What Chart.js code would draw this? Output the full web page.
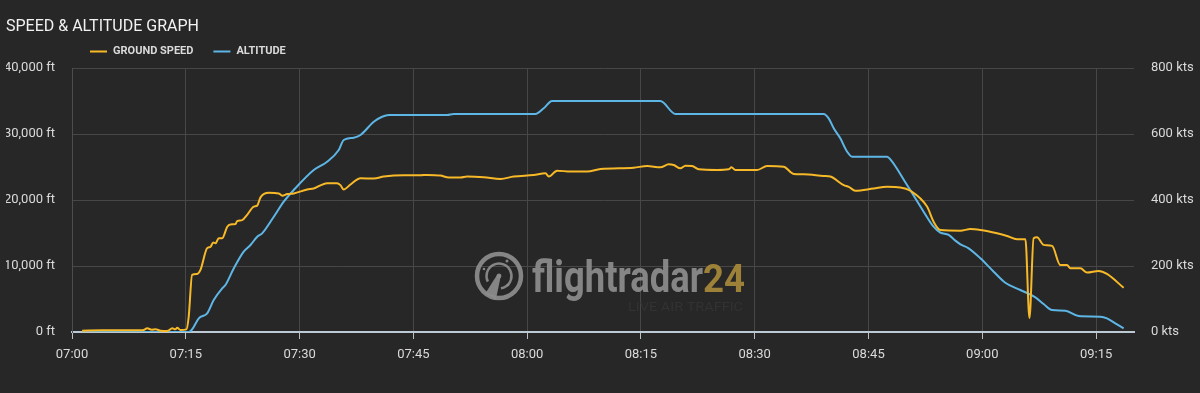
<!DOCTYPE html>
<html>
<head>
<meta charset="utf-8">
<script src="https://cdn.jsdelivr.net/npm/chart.js@4.4.1/dist/chart.umd.min.js"></script>
<style>
html,body{margin:0;padding:0;background:#272727;overflow:hidden;}
#wrap{width:1200px;height:393px;position:relative;}
</style>
</head>
<body>
<div id="wrap"><canvas id="c" width="1200" height="393"></canvas></div>
<script>
// ---- Data ----
const chartTitle = 'SPEED & ALTITUDE GRAPH';
const timeTicks = ['07:00','07:15','07:30','07:45','08:00','08:15','08:30','08:45','09:00','09:15'];
const altitudeTicks = [0, 10000, 20000, 30000, 40000];
const speedTicks = [0, 200, 400, 600, 800];

const altitudeTimes = ['07:01:20','07:15:23','07:15:50','07:16:43','07:17:49','07:18:41','07:19:48','07:20:14','07:21:20','07:22:38',
  '07:23:32','07:24:25','07:25:04','07:26:36','07:27:55','07:29:14','07:31:52','07:33:38','07:35:10','07:35:49',
  '07:37:08','07:38:02','07:39:47','07:40:53','07:41:46','07:49:27','07:50:19','08:01:05','08:02:11','08:03:17',
  '08:17:34','08:19:33','08:39:05','08:39:45','08:40:25','08:41:17','08:42:11','08:42:50','08:47:27','08:47:53',
  '08:50:05','08:52:16','08:53:35','08:54:28','08:55:34','08:56:27','08:57:07','08:58:12','08:59:45','09:01:30',
  '09:03:02','09:05:01','09:07:00','09:08:05','09:09:12','09:10:57','09:12:42','09:15:34','09:16:26','09:17:32','09:18:38'];
const altitudeFt = [0,0,400,2075,2830,4850,6620,7120,9650,12170,
  13180,14440,14950,17470,19740,21510,24540,25800,27570,29090,
  29440,29850,31860,32620,32880,32880,33030,33030,33890,35000,
  35000,33030,33030,32370,30860,29340,27320,26560,26560,26160,
  22270,18230,15950,15050,14700,13840,13290,12680,11170,9140,
  7470,6360,5250,4240,3330,3230,2420,2320,2070,1320,560];

const speedTimes = ['07:01:20','07:04:00','07:07:00','07:09:20','07:09:55','07:10:30','07:11:00','07:11:40','07:12:33','07:13:13','07:13:38','07:13:52','07:14:18','07:15:05',
  '07:15:23','07:15:50','07:16:30','07:16:56','07:17:49','07:18:15','07:18:37','07:18:55','07:19:21','07:19:48',
  '07:20:28','07:20:53','07:21:33','07:21:46','07:22:26','07:23:05','07:23:58','07:24:25','07:24:51','07:25:56',
  '07:27:16','07:27:43','07:28:22','07:29:14','07:31:00','07:31:52','07:33:38','07:34:57','07:35:23','07:35:49',
  '07:36:43','07:38:02','07:39:47','07:41:06','07:43:44','07:45:56','07:46:49','07:48:34','07:49:40','07:51:13',
  '07:52:05','07:54:17','07:56:29','07:58:14','08:00:52','08:02:25','08:02:51','08:03:57','08:05:43','08:07:55',
  '08:09:40','08:14:03','08:15:49','08:17:34','08:18:40','08:19:19','08:20:12','08:20:52','08:21:45','08:22:37',
  '08:25:02','08:26:34','08:26:56','08:27:27','08:30:19','08:31:38','08:33:49','08:35:08','08:36:28','08:39:05',
  '08:39:58','08:41:44','08:42:24','08:43:16','08:45:41','08:47:27','08:49:12','08:50:31','08:52:43','08:53:35',
  '08:54:28','08:57:07','08:58:26','08:59:45','09:01:57','09:03:16','09:04:35','09:05:41','09:06:13','09:06:46',
  '09:07:13','09:08:05','09:09:12','09:10:17','09:11:10','09:11:37','09:12:56','09:13:49','09:15:20','09:16:26','09:18:38'];
const groundSpeedKts = [4,5,5,5,11,7,8,4,3,11,8,13,6,8,
  46,173,176,188,254,258,271,269,284,284,
  319,326,327,336,339,355,380,383,408,422,
  420,413,418,420,432,435,451,451,445,432,
  447,466,465,471,475,475,476,474,468,468,
  471,469,464,471,476,481,471,489,486,486,
  494,498,503,499,508,506,496,504,503,493,
  491,493,499,491,491,503,501,479,478,473,
  471,445,440,428,435,440,438,428,380,334,
  309,307,312,309,299,291,281,281,42,284,
  287,264,261,203,203,193,193,180,185,176,134];

const axisStart = '07:00';
const axisEnd = '09:20';

// ---- helpers ----
function toSec(t){ const p = t.split(':').map(Number); return p[0]*3600 + p[1]*60 + (p[2]||0); }
const t0 = toSec(axisStart);
function toMin(t){ return (toSec(t) - t0) / 60; }
const tickLabelByMin = {};
timeTicks.forEach(t => { tickLabelByMin[Math.round(toMin(t))] = t; });

const SPEED_COLOR = '#f7b928';
const ALT_COLOR = '#5db6e6';
const TEXT_COLOR = '#dadada';
const GRID_COLOR = '#474747';

Chart.defaults.font.family = 'Roboto, "Open Sans", sans-serif';
Chart.defaults.color = TEXT_COLOR;

const legendPlugin = {
  id: 'fr24Legend',
  afterDraw(chart){
    const ctx = chart.ctx;
    ctx.save();
    ctx.font = 'bold 11px Roboto';
    ctx.textBaseline = 'middle';
    ctx.textAlign = 'left';
    let x = 90; const y = 51;
    chart.data.datasets.forEach(ds => {
      ctx.fillStyle = ds.borderColor;
      ctx.fillRect(x, y - 0.5, 17, 2);
      x += 23;
      ctx.fillStyle = TEXT_COLOR;
      ctx.fillText(ds.label, x, y);
      x += ctx.measureText(ds.label).width + 20;
    });
    ctx.restore();
  }
};

const watermarkPlugin = {
  id: 'fr24Watermark',
  beforeDatasetsDraw(chart){
    const ctx = chart.ctx;
    const a = chart.chartArea;
    const mx = (a.left + a.right) / 2, my = (a.top + a.bottom) / 2;
    const cx = mx - 104, cy = my + 76;
    ctx.save();
    ctx.globalAlpha = 0.92;
    const gray = '#8d8d8d';
    ctx.strokeStyle = gray; ctx.fillStyle = gray;
    ctx.lineWidth = 4.5;
    ctx.beginPath(); ctx.arc(cx, cy, 22, 0, Math.PI * 2); ctx.stroke();
    ctx.lineWidth = 2.5;
    ctx.beginPath(); ctx.arc(cx, cy, 12.5, Math.PI * 0.85, Math.PI * 0.45); ctx.stroke();
    ctx.beginPath(); ctx.arc(cx, cy, 2.4, 0, Math.PI * 2); ctx.fill();
    ctx.beginPath(); ctx.arc(cx + 8, cy - 15, 1.5, 0, Math.PI * 2); ctx.fill();
    ctx.beginPath(); ctx.arc(cx - 15, cy - 7, 1.3, 0, Math.PI * 2); ctx.fill();
    ctx.beginPath(); ctx.arc(cx + 9, cy + 9, 1.3, 0, Math.PI * 2); ctx.fill();
    ctx.beginPath();
    ctx.moveTo(cx + 2, cy - 1); ctx.lineTo(cx - 2, cy - 1);
    ctx.lineTo(cx - 14, cy + 18); ctx.lineTo(cx - 3, cy + 23);
    ctx.closePath(); ctx.fill();
    // wordmark
    const base = cy + 16;
    ctx.textBaseline = 'alphabetic'; ctx.textAlign = 'left';
    ctx.font = 'bold 44px Roboto';
    let w = ctx.measureText('flightradar').width;
    ctx.save(); ctx.translate(cx + 33, base); ctx.scale(171 / w, 1);
    ctx.fillText('flightradar', 0, 0); ctx.restore();
    ctx.font = 'bold 38px Roboto';
    ctx.fillStyle = '#a8893a';
    w = ctx.measureText('24').width;
    ctx.save(); ctx.translate(cx + 204, base); ctx.scale(42 / w, 1);
    ctx.fillText('24', 0, 0); ctx.restore();
    ctx.font = '12px Roboto';
    ctx.fillStyle = '#333333';
    w = ctx.measureText('LIVE AIR TRAFFIC').width;
    ctx.save(); ctx.translate(cx + 129, base + 19); ctx.scale(115 / w, 1);
    ctx.fillText('LIVE AIR TRAFFIC', 0, 0); ctx.restore();
    ctx.restore();
  }
};

new Chart(document.getElementById('c'), {
  type: 'line',
  data: {
    datasets: [
      {
        label: 'GROUND SPEED',
        data: speedTimes.map((t, i) => ({ x: toMin(t), y: groundSpeedKts[i] })),
        yAxisID: 'y1',
        borderColor: SPEED_COLOR,
        backgroundColor: SPEED_COLOR,
        borderWidth: 2,
        pointRadius: 0,
        cubicInterpolationMode: 'monotone',
        fill: false
      },
      {
        label: 'ALTITUDE',
        data: altitudeTimes.map((t, i) => ({ x: toMin(t), y: altitudeFt[i] })),
        yAxisID: 'y',
        borderColor: ALT_COLOR,
        backgroundColor: ALT_COLOR,
        borderWidth: 2,
        pointRadius: 0,
        cubicInterpolationMode: 'monotone',
        fill: false
      }
    ]
  },
  options: {
    responsive: false,
    animation: false,
    devicePixelRatio: 1,
    layout: { padding: { left: 6, right: 0, top: 0, bottom: 0 } },
    plugins: {
      legend: { display: false },
      tooltip: { enabled: false },
      title: {
        display: true,
        text: chartTitle,
        align: 'start',
        color: '#f2f2f2',
        font: { size: 16, weight: 'normal' },
        padding: { top: 17, bottom: 31.8 }
      }
    },
    scales: {
      x: {
        type: 'linear',
        min: toMin(axisStart),
        max: toMin(axisEnd),
        afterBuildTicks: s => { s.ticks = timeTicks.map(t => ({ value: toMin(t) })); },
        afterFit: s => { s.height = 61; },
        ticks: {
          callback: v => tickLabelByMin[Math.round(v)] || '',
          color: TEXT_COLOR,
          font: { size: 13 },
          padding: 8,
          maxRotation: 0,
          autoSkip: false
        },
        grid: { color: GRID_COLOR, tickColor: '#b4c0ca', tickLength: 7, drawTicks: true },
        border: { color: '#bcc8d2', width: 2 }
      },
      y: {
        position: 'left',
        min: 0,
        max: 40000,
        afterBuildTicks: s => { s.ticks = altitudeTicks.map(v => ({ value: v })); },
        afterFit: s => { s.width = 66; },
        ticks: {
          callback: v => v.toLocaleString('en-US') + ' ft',
          color: TEXT_COLOR,
          font: { size: 13 },
          padding: 17
        },
        grid: {
          color: c => (c.tick && c.tick.value === 0) ? 'rgba(0,0,0,0)' : GRID_COLOR,
          drawTicks: false
        },
        border: { color: '#4d4d4d', width: 1 }
      },
      y1: {
        position: 'right',
        min: 0,
        max: 800,
        afterBuildTicks: s => { s.ticks = speedTicks.map(v => ({ value: v })); },
        afterFit: s => { s.width = 66; },
        ticks: {
          callback: v => v + ' kts',
          color: TEXT_COLOR,
          font: { size: 13 },
          padding: 17
        },
        grid: { display: false, drawTicks: false },
        border: { display: false }
      }
    }
  },
  plugins: [watermarkPlugin, legendPlugin]
});
</script>
</body>
</html>
